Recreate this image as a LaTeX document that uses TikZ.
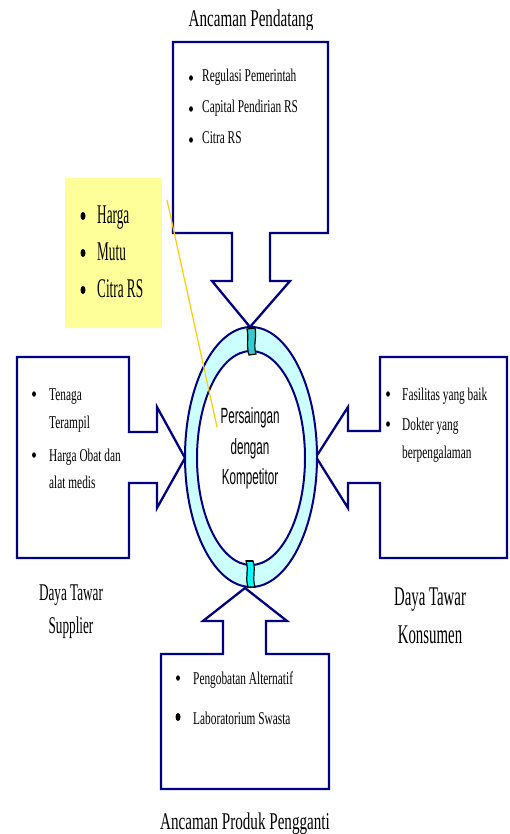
\documentclass[tikz,border=0pt]{standalone}
\usepackage{fontspec}
\setmainfont{Liberation Serif}
\newfontfamily\serifA[FakeStretch=0.63]{Liberation Serif}
\newfontfamily\serifB[FakeStretch=0.55]{Liberation Serif}
\newfontfamily\serifC[FakeStretch=0.49]{Liberation Serif}
\newfontfamily\sansA[FakeStretch=0.53]{Liberation Sans}
\usetikzlibrary{shapes.geometric}
\definecolor{navy}{HTML}{000080}
\definecolor{ringfill}{HTML}{CCFFFF}
\definecolor{notefill}{HTML}{FFFF99}
\definecolor{callout}{HTML}{FFCC00}
\definecolor{jointA}{HTML}{33CCCC}
\definecolor{jointB}{HTML}{00FFFF}

\begin{document}
\begin{tikzpicture}[x=1pt,y=-1pt,
  forceshape/.style={draw=navy,line width=2.3pt,fill=white,line join=miter},
  ringline/.style={draw=navy,line width=2pt,ellipse,inner sep=0pt},
  joint/.style={draw=black,line width=1.2pt},
  dot/.style={ellipse,fill=black,inner sep=0pt,minimum width=3.8pt,minimum height=5.5pt},
  bigdot/.style={ellipse,fill=black,inner sep=0pt,minimum width=5pt,minimum height=8pt},
  boxtext/.style={anchor=base west,inner sep=0pt,font=\serifA\fontsize{18}{18}\selectfont},
  notetext/.style={anchor=base west,inner sep=0pt,font=\serifC\fontsize{27}{27}\selectfont},
  toptitle/.style={anchor=base,inner sep=0pt,font=\serifA\fontsize{24}{24}\selectfont},
  sidetitle/.style={anchor=base,inner sep=0pt,font=\serifB\fontsize{24}{24}\selectfont},
  bigsidetitle/.style={anchor=base,inner sep=0pt,font=\serifB\fontsize{27}{27}\selectfont},
  centertext/.style={anchor=base,inner sep=0pt,font=\sansA\fontsize{22}{22}\selectfont}
]
\useasboundingbox (0,0) rectangle (509,834);

% top force: new entrants, box with arrow pointing down
\draw[forceshape] (173,42) -- (328,42) -- (328,233) -- (270,233) -- (270,281)
  -- (290,281) -- (250,327) -- (212,281) -- (232,281) -- (232,233)
  -- (173,233) -- cycle;
% left force: suppliers, arrow pointing right
\draw[forceshape] (17,357) -- (129,357) -- (129,432) -- (157,432) -- (157,407)
  -- (185,458) -- (157,508) -- (157,483) -- (129,483) -- (129,558)
  -- (17,558) -- cycle;
% right force: buyers, arrow pointing left
\draw[forceshape] (380,357) -- (507,357) -- (507,558) -- (380,558) -- (380,483)
  -- (348,483) -- (348,508) -- (316,457) -- (348,407) -- (348,431)
  -- (380,431) -- cycle;
% bottom force: substitutes, arrow pointing up
\draw[forceshape] (245,588) -- (287,621) -- (266,621) -- (266,654) -- (329,654)
  -- (329,789) -- (161,789) -- (161,654) -- (223,654) -- (223,621)
  -- (203,621) -- cycle;

% central rivalry ring
\node[ringline,fill=ringfill,minimum width=132pt,minimum height=260pt] (ring) at (251,457) {};
\node[ringline,fill=white,minimum width=108pt,minimum height=214pt] (core) at (251,458) {};

% joints on the ring
\draw[joint,fill=jointA] (247,329) .. controls (249,337) and (246,346) .. (249,355)
  -- (256,354) .. controls (253,345) and (257,337) .. (255,328) -- cycle;
\draw[joint,fill=jointB] (246,561) .. controls (249,569) and (245,578) .. (248,587)
  -- (255,587) .. controls (252,578) and (256,569) .. (253,561) -- cycle;
\draw[black,line width=2pt] (246,561) -- (253,561);

% yellow note
\node[fill=notefill,inner sep=0pt,minimum width=97pt,minimum height=150pt,anchor=north west] (note) at (65,178) {};
\node[bigdot] (nb1) at (83,216) {};
\node[notetext] (n1) at (97,223) {Harga};
\node[bigdot] (nb2) at (83,253) {};
\node[notetext] (n2) at (97,260) {Mutu};
\node[bigdot] (nb3) at (83,290) {};
\node[notetext] (n3) at (97,297) {Citra RS};

% callout line
\coordinate (calloutstart) at (167,200);
\coordinate (calloutend) at (217,427);
\draw[callout,line width=1.2pt] (calloutstart) -- (calloutend);

% centre label
\node[centertext] (c1) at (250,423) {Persaingan};
\node[centertext] (c2) at (250,454) {dengan};
\node[centertext] (c3) at (250,484) {Kompetitor};

% top box items
\node[dot] (tb1) at (191,78) {};
\node[boxtext] (t1) at (202,82) {Regulasi Pemerintah};
\node[dot] (tb2) at (191,109) {};
\node[boxtext] (t2) at (202,113) {Capital Pendirian RS};
\node[dot] (tb3) at (191,140) {};
\node[boxtext] (t3) at (202,144) {Citra RS};

% left box items
\node[dot] (lb1) at (34,394) {};
\node[boxtext] (l1) at (49,400) {Tenaga};
\node[boxtext] (l2) at (49,428) {Terampil};
\node[dot] (lb2) at (34,455) {};
\node[boxtext] (l3) at (49,461) {Harga Obat dan};
\node[boxtext] (l4) at (49,488) {alat medis};

% right box items
\node[dot] (rb1) at (388,394) {};
\node[boxtext] (r1) at (402,400) {Fasilitas yang baik};
\node[dot] (rb2) at (388,424) {};
\node[boxtext] (r2) at (402,430) {Dokter yang};
\node[boxtext] (r3) at (402,458) {berpengalaman};

% bottom box items
\node[dot] (bb1) at (178,678) {};
\node[boxtext] (b1) at (193,684) {Pengobatan Alternatif};
\node[bigdot] (bb2) at (178,717) {};
\node[boxtext] (b2) at (193,724) {Laboratorium Swasta};

% titles
\begin{scope}
  \clip (0,0) rectangle (509,30);
  \node[toptitle] (ttop) at (251,27) {Ancaman Pendatang};
\end{scope}
\node[toptitle] (tbottom) at (245,829) {Ancaman Produk Pengganti};
\node[sidetitle] (tleft1) at (71,600) {Daya Tawar};
\node[sidetitle] (tleft2) at (71,633) {Supplier};
\node[bigsidetitle] (tright1) at (430,605) {Daya Tawar};
\node[bigsidetitle] (tright2) at (430,643) {Konsumen};
\end{tikzpicture}
\end{document}
